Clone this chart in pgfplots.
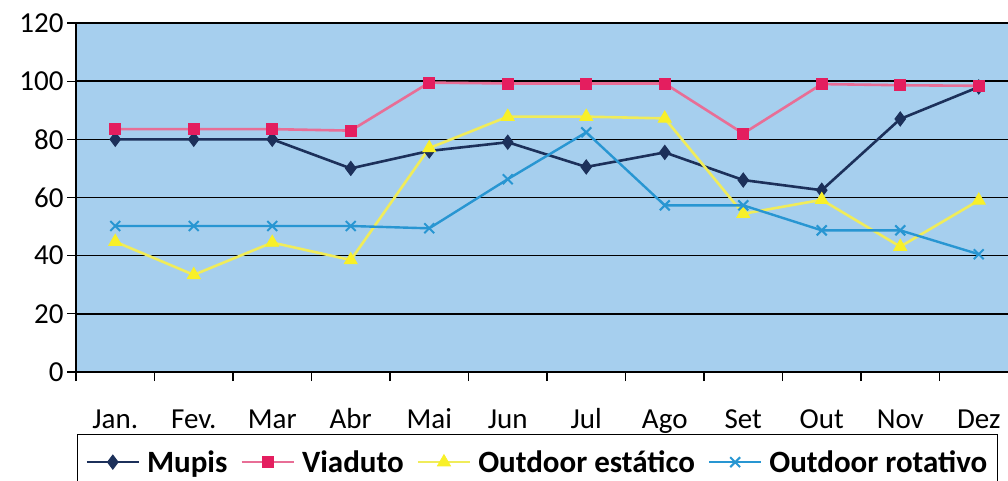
\documentclass[border=0pt]{standalone}
\usepackage{fontspec}
\setmainfont{Carlito}
\usepackage{pgfplots}
\pgfplotsset{compat=1.18}
\definecolor{bgblue}{RGB}{166,207,238}
\definecolor{mupis}{RGB}{28,48,90}
\definecolor{viaL}{RGB}{232,110,150}
\definecolor{viaM}{RGB}{228,30,95}
\definecolor{estL}{RGB}{240,236,90}
\definecolor{estM}{RGB}{248,240,40}
\definecolor{rot}{RGB}{40,150,210}
\begin{document}
\begin{tikzpicture}
\begin{axis}[
  scale only axis,
  width=942pt, height=349pt,
  xmin=-0.5, xmax=11.5, ymin=0, ymax=120,
  axis background/.style={fill=bgblue},
  axis x line*=bottom, axis y line*=left,
  axis line style={-, black, line width=1.5pt},
  ytick={0,20,...,120},
  ymajorgrids, grid style={black, line width=1.5pt},
  tick align=outside, major tick length=9pt,
  tick style={black, line width=1.3pt},
  xtick={-0.5,0.5,...,11.5}, xticklabels={},
  extra x ticks={0,1,...,11},
  extra x tick labels={Jan.,Fev.,Mar,Abr,Mai,Jun,Jul,Ago,Set,Out,Nov,Dez},
  extra x tick style={major tick length=0pt},
  x tick label style={font=\fontsize{29}{34}\selectfont, inner sep=0pt, text height=20pt, text depth=6pt, anchor=north, yshift=-36pt},
  y tick label style={font=\fontsize{29}{34}\selectfont},
  /pgf/number format/assume math mode=true,
  legend columns=-1,
  legend style={at={(axis description cs:0,0)}, anchor=north west, xshift=1pt, yshift=-62pt,
    draw=black, line width=1pt, inner xsep=8pt, inner ysep=14pt,
    font=\bfseries\fontsize{31}{36}\selectfont,
    /tikz/every odd column/.append style={column sep=5pt},
    /tikz/every even column/.append style={column sep=11pt}},
  legend image code/.code={\draw[mark repeat=2,mark phase=2,#1] plot coordinates {(0pt,0pt) (26pt,0pt) (52pt,0pt)};},
]
\coordinate (O) at (rel axis cs:0,0);
\addplot[mupis, line width=2.6pt, mark=diamond*, mark size=7pt, mark options={fill=mupis, line width=1pt}]
  coordinates {(0,80) (1,80) (2,80) (3,70) (4,76) (5,79) (6,70.5) (7,75.5) (8,66) (9,62.5) (10,87) (11,98)};
\addplot[viaL, line width=2.6pt, mark=square*, mark size=5.5pt, mark options={fill=viaM, draw=viaM, line width=0.8pt}]
  coordinates {(0,83.5) (1,83.5) (2,83.5) (3,83) (4,99.5) (5,99.2) (6,99.2) (7,99.2) (8,82) (9,99) (10,98.6) (11,98.4)};
\addplot[estL, line width=2.6pt, mark=triangle*, mark size=7.5pt, mark options={fill=estM, draw=estM, line width=0.8pt}]
  coordinates {(0,44.8) (1,33.4) (2,44.5) (3,38.5) (4,77) (5,87.8) (6,87.8) (7,87.2) (8,54.4) (9,59.2) (10,43.1) (11,59)};
\addplot[rot, line width=2.4pt, mark=x, mark size=7pt, mark options={draw=rot, line width=2pt}]
  coordinates {(0,50.2) (1,50.2) (2,50.2) (3,50.2) (4,49.4) (5,66.3) (6,82.4) (7,57.3) (8,57.3) (9,48.7) (10,48.7) (11,40.5)};
\legend{Mupis,Viaduto,Outdoor estático,Outdoor rotativo}
\end{axis}
\pgfresetboundingbox
\path[use as bounding box] ([shift={(-76pt,-109pt)}]O) rectangle ++(1008pt,481pt);
\end{tikzpicture}
\end{document}
